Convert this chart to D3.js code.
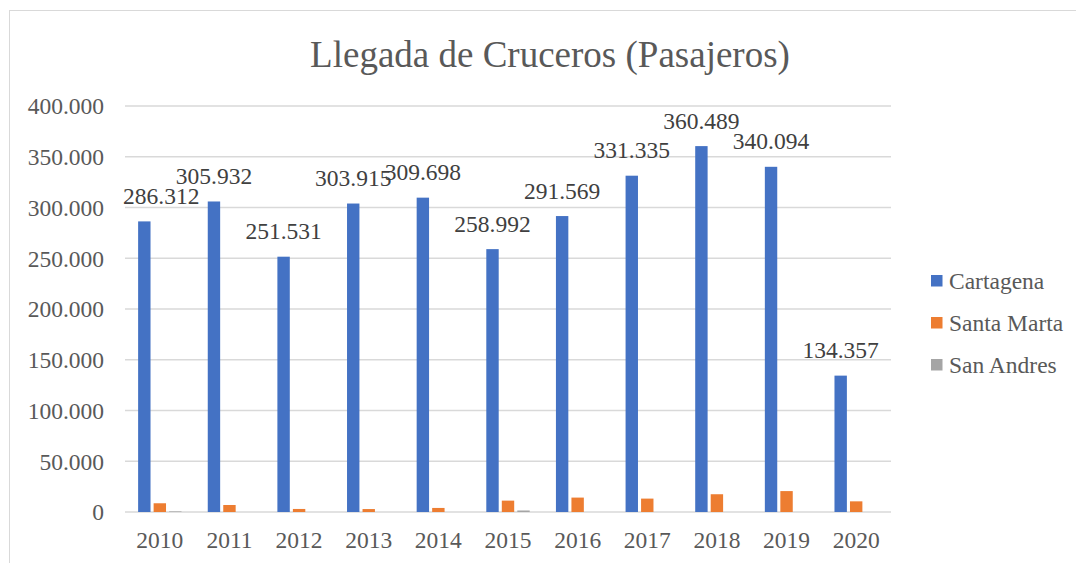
<!DOCTYPE html>
<html>
<head>
<meta charset="utf-8">
<script src="https://cdn.jsdelivr.net/npm/d3@7"></script>
<style>
  html, body { margin: 0; padding: 0; background: #fff; }
  svg { display: block; }
  text { font-family: "Liberation Serif", "Times New Roman", serif; }
</style>
</head>
<body>
<svg id="chart" width="1076" height="563"></svg>
<script>
const years = ["2010", "2011", "2012", "2013", "2014", "2015", "2016", "2017", "2018", "2019", "2020"];
const seriesNames = ["Cartagena", "Santa Marta", "San Andres"];
const cartagena = [286312, 305932, 251531, 303915, 309698, 258992, 291569, 331335, 360489, 340094, 134357];
const santaMarta = [8600, 6900, 3000, 2900, 4000, 11200, 14200, 13200, 17500, 20600, 10500];
const sanAndres = [600, 0, 0, 0, 0, 1500, 0, 0, 0, 0, 0];
const colors = ["#4472C4", "#ED7D31", "#A5A5A5"];
const yTicks = [0, 50000, 100000, 150000, 200000, 250000, 300000, 350000, 400000];

const values = [cartagena, santaMarta, sanAndres];

const svg = d3.select("#chart");

const margin = { top: 106, left: 125, right: 185, bottom: 51 },
  width = 1076 - margin.left - margin.right,
  height = 563 - margin.top - margin.bottom;

// chart frame (runs off the right and bottom edges)
svg.append("rect")
  .attr("x", 9.5).attr("y", 10.5)
  .attr("width", 1100).attr("height", 600)
  .attr("fill", "none").attr("stroke", "#d9d9d9");

svg.append("text")
  .attr("x", 550).attr("y", 67)
  .attr("text-anchor", "middle")
  .attr("font-size", 37)
  .attr("fill", "#595959")
  .text("Llegada de Cruceros (Pasajeros)");

const g = svg.append("g")
  .attr("transform", "translate(" + margin.left + "," + margin.top + ")");

const x = d3.scaleBand().domain(years).range([0, width]);
const xInner = d3.scaleBand()
  .domain(seriesNames)
  .range([-23.25, 23.25])
  .paddingInner(0.2)
  .paddingOuter(0.1);
const y = d3.scaleLinear().domain([0, 400000]).range([height, 0]);

// gridlines
g.append("g")
  .selectAll("line")
  .data(yTicks)
  .join("line")
  .attr("x1", 0).attr("x2", width)
  .attr("y1", (d) => y(d)).attr("y2", (d) => y(d))
  .attr("stroke", "#d9d9d9")
  .attr("stroke-width", 1.5);

// y axis labels
const yAxis = d3.axisLeft(y)
  .tickValues(yTicks)
  .tickSize(0)
  .tickPadding(21)
  .tickFormat((d) => d === 0 ? "0" : d3.format(",")(d).replace(/,/g, "."));
g.append("g")
  .call(yAxis)
  .call((s) => s.select(".domain").remove())
  .selectAll("text")
  .attr("font-family", "Liberation Serif, Times New Roman, serif")
  .attr("font-size", 23.5)
  .attr("fill", "#595959")
  .attr("dy", "0.33em");

// x axis labels
const xAxis = d3.axisBottom(x).tickSize(0).tickPadding(19);
g.append("g")
  .attr("transform", "translate(0," + height + ")")
  .call(xAxis)
  .call((s) => s.select(".domain").remove())
  .selectAll("text")
  .attr("font-family", "Liberation Serif, Times New Roman, serif")
  .attr("font-size", 23.5)
  .attr("fill", "#595959");

// bars
seriesNames.forEach((name, si) => {
  g.append("g")
    .selectAll("rect")
    .data(values[si])
    .join("rect")
    .attr("x", (d, i) => x(years[i]) + x.bandwidth() / 2 + xInner(name))
    .attr("y", (d) => y(d))
    .attr("width", xInner.bandwidth())
    .attr("height", (d) => height - y(d))
    .attr("fill", colors[si]);
});

// data labels for Cartagena, kept inside the plot area
g.append("g")
  .selectAll("text")
  .data(cartagena)
  .join("text")
  .attr("x", (d, i) => x(years[i]) + x.bandwidth() / 2 + xInner("Cartagena") + xInner.bandwidth() / 2)
  .attr("y", (d) => y(d) - 17.5)
  .attr("text-anchor", "middle")
  .attr("font-size", 23.5)
  .attr("fill", "#404040")
  .text((d) => d3.format(",")(d).replace(/,/g, "."))
  .each(function () {
    const t = d3.select(this);
    const half = this.getComputedTextLength() / 2;
    const cx = +t.attr("x");
    if (cx - half < -2) t.attr("x", half - 2);
  });

// legend
const legend = svg.append("g").attr("transform", "translate(931,0)");
const legendY = [281, 323, 365];
seriesNames.forEach((name, i) => {
  legend.append("rect")
    .attr("x", 0).attr("y", legendY[i] - 6)
    .attr("width", 11.5).attr("height", 11.5)
    .attr("fill", colors[i]);
  legend.append("text")
    .attr("x", 18).attr("y", legendY[i] + 8)
    .attr("font-size", 23.5)
    .attr("fill", "#595959")
    .text(name);
});
</script>
</body>
</html>
